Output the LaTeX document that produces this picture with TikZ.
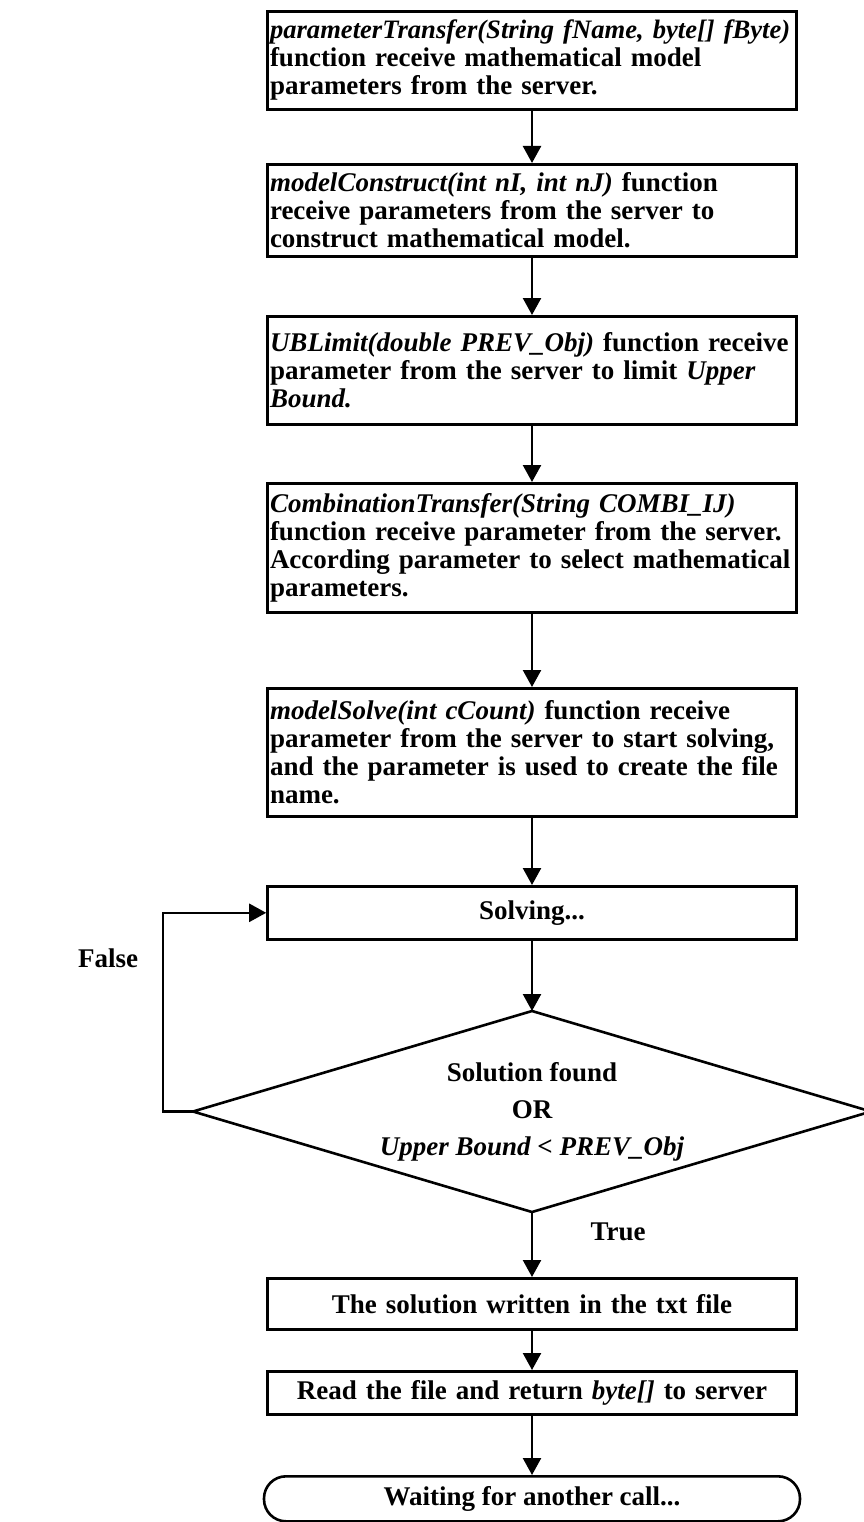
\documentclass[tikz,border=0pt]{standalone}
\usepackage{fontspec}
\setmainfont{Liberation Serif}
\usetikzlibrary{arrows.meta}

\begin{document}
\begin{tikzpicture}[x=1pt,y=-1pt,
  txt/.style={font=\fontsize{27}{28}\selectfont\bfseries},
  box/.style={txt, draw, line width=2.6pt, minimum width=529pt, text width=524pt,
    inner xsep=2.5pt, inner ysep=4pt, align=left, anchor=north},
  cbox/.style={box, align=center},
  flow/.style={line width=2.4pt, -{Triangle[width=18pt,length=17pt]}},
  edge/.style={line width=2.6pt, line join=miter},
  lbl/.style={txt}]

\useasboundingbox (0,0) rectangle (863,1522);

% process steps
\node[box, minimum height=98pt] (b1) at (532,10)
  {\mbox{\fontsize{26.6}{28}\selectfont\textit{parameterTransfer(String fName, byte[] fByte)}}\\
   function receive mathematical model\\
   parameters from the server.};

\node[box, minimum height=92pt] (b2) at (532,163)
  {\textit{modelConstruct(int nI, int nJ)} function\\
   receive parameters from the server to\\
   construct mathematical model.};

\node[box, minimum height=108pt] (b3) at (532,315)
  {\textit{UBLimit(double PREV\_Obj)} function receive\\
   parameter from the server to limit \textit{Upper}\\
   \textit{Bound.}};

\node[box, minimum height=129pt] (b4) at (532,482)
  {\textit{CombinationTransfer(String COMBI\_IJ)}\\
   function receive parameter from the server.\\
   According parameter to select mathematical\\
   parameters.};

\node[box, minimum height=128pt] (b5) at (532,687)
  {\textit{modelSolve(int cCount)} function receive\\
   parameter from the server to start solving,\\
   and the parameter is used to create the file\\
   name.};

\node[cbox, minimum height=53pt] (solve) at (532,885) {Solving...};

% decision
\coordinate (dtop) at (532,1011);
\coordinate (dbot) at (532,1212);
\coordinate (dleft) at (193,1111.5);
\coordinate (dright) at (871,1111.5);
\draw[edge] (dtop) -- (dright) -- (dbot) -- (dleft) -- cycle;
\node[font=\fontsize{27}{37}\selectfont\bfseries, align=center] (dec) at (532,1112)
  {Solution found\\ OR\\ \textit{Upper Bound < PREV\_Obj}};

\node[cbox, minimum height=51pt] (file) at (532,1277) {The solution written in the txt file};

\node[cbox, minimum height=43pt] (read) at (532,1370) {Read the file and return \textit{byte[]} to server};

\node[txt, draw, line width=2.6pt, rounded corners=22pt, anchor=north,
  minimum width=536pt, minimum height=45pt] (wait) at (532,1475) {Waiting for another call...};

\node[lbl] (false) at (108,958) {False};
\node[lbl] (true) at (618,1232) {True};

% connectors
\draw[flow] (b1) -- (b2);
\draw[flow] (b2) -- (b3);
\draw[flow] (b3) -- (b4);
\draw[flow] (b4) -- (b5);
\draw[flow] (b5) -- (solve);
\draw[flow] (solve) -- (dtop);
\draw[flow] (dbot) -- (file);
\draw[flow] (file) -- (read);
\draw[flow] (read) -- (wait);
\draw[flow] (dleft) -- ++(-30,0) |- (solve.west);

\end{tikzpicture}
\end{document}
